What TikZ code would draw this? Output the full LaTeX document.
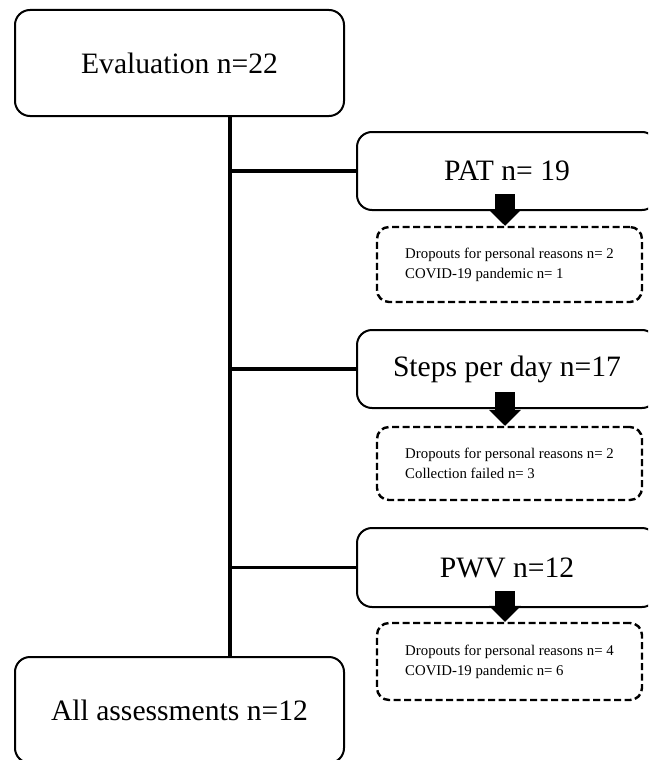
\documentclass[tikz,border=0pt]{standalone}
\usepackage{fontspec}
\setmainfont{Liberation Serif}
\usetikzlibrary{arrows.meta,calc}
\begin{document}
\begin{tikzpicture}[x=1pt,y=-1pt,
  bigbox/.style={draw=black,line width=2pt,rounded corners=15pt,rectangle,inner sep=0pt,
    font=\fontsize{29.6}{36}\selectfont},
  dropbox/.style={draw=black,line width=2.4pt,dash pattern=on 7pt off 3.5pt,rounded corners=12pt,
    rectangle,inner sep=0pt,minimum width=265pt,align=left,
    font=\fontsize{14.8}{20}\selectfont},
  conn/.style={line width=3.2pt},
  bigarrow/.style={line width=20pt,-{Triangle[width=31pt,length=16pt]}}]
\useasboundingbox (0,0) rectangle (648,760);
\clip (0,0) rectangle (648,760);
\node[bigbox,minimum width=329pt,minimum height=106pt] (eval) at (179.5,63) {Evaluation n=22};
\node[bigbox,minimum width=329pt,minimum height=106pt] (all) at (179.5,710) {All assessments n=12};
\node[bigbox,minimum width=300pt,minimum height=78pt] (pat) at (507,171) {PAT n= 19};
\node[bigbox,minimum width=300pt,minimum height=78pt] (steps) at (507,369) {Steps per day n=17};
\node[bigbox,minimum width=300pt,minimum height=79pt] (pwv) at (507,567.5) {PWV n=12};
\node[dropbox,minimum height=75pt] (d1) at (509.5,264.5) {Dropouts for personal reasons n= 2\\COVID-19 pandemic n= 1};
\node[dropbox,minimum height=73pt] (d2) at (509.5,463.5) {Dropouts for personal reasons n= 2\\Collection failed n= 3};
\node[dropbox,minimum height=77pt] (d3) at (509.5,661.5) {Dropouts for personal reasons n= 4\\COVID-19 pandemic n= 6};
\coordinate (spine) at (230,400);
\draw[conn] (eval.south -| spine) -- (all.north -| spine);
\draw[conn] (spine |- pat.west) -- (pat.west);
\draw[conn] (spine |- steps.west) -- (steps.west);
\draw[conn] (spine |- pwv.west) -- (pwv.west);
\draw[bigarrow] ($(pat.south)+(-2,-17)$) -- ($(pat.south |- d1.north)+(-2,0)$);
\draw[bigarrow] ($(steps.south)+(-2,-17)$) -- ($(steps.south |- d2.north)+(-2,0)$);
\draw[bigarrow] ($(pwv.south)+(-2,-17)$) -- ($(pwv.south |- d3.north)+(-2,0)$);
\end{tikzpicture}
\end{document}
